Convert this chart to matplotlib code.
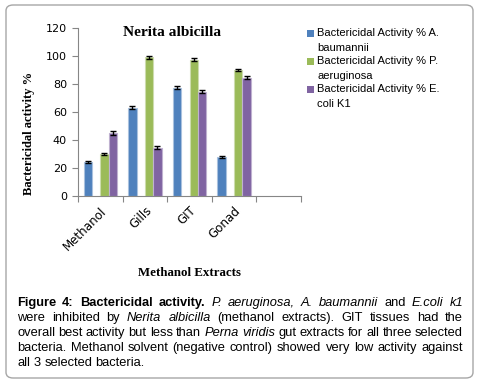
import numpy as np
import matplotlib
matplotlib.use('Agg')
import matplotlib.pyplot as plt
from matplotlib.patches import FancyBboxPatch, Rectangle

# data
categories = ['Methanol', 'Gills', 'GIT', 'Gonad', '']
a_baumannii = [24, 63, 77.5, 28]
p_aeruginosa = [30, 99, 97.5, 90]
e_coli = [45, 34.5, 74.5, 84.5]
err_a = [0.7, 1.0, 1.0, 0.8]
err_p = [1.0, 1.0, 1.0, 1.0]
err_e = [1.2, 1.0, 1.0, 1.0]
legend_labels = ['Bactericidal Activity % A.\nbaumannii',
                 'Bactericidal Activity % P.\naeruginosa',
                 'Bactericidal Activity % E.\ncoli K1']
colors = ['#4F81BD', '#9BBB59', '#8064A2']
edges = ['#a9c1de', '#cddcae', '#bfb1d0']

W, H = 479, 383
fig = plt.figure(figsize=(W / 100, H / 100), dpi=100)

def fx(px):
    return px / W

def fy(py):
    return 1 - py / H

# outer rounded frame
frame = FancyBboxPatch((fx(6), fy(378)), fx(473) - fx(6), fy(5) - fy(378),
                       boxstyle='round,pad=0,rounding_size=0.015',
                       transform=fig.transFigure, fc='none', ec='#a6a6a6', lw=1.0)
fig.patches.append(frame)

ax = fig.add_axes([fx(78), fy(196), fx(301) - fx(78), fy(28) - fy(196)])
ax.patch.set_alpha(0)
x = np.arange(len(a_baumannii))
w = 0.1875
slots = [-1.5 * w, 0.5 * w, 1.5 * w]  # second slot of four is empty
ekw = dict(elinewidth=1.0, capthick=1.0, ecolor='black')
for vals, errs, off, c, e in zip([a_baumannii, p_aeruginosa, e_coli], [err_a, err_p, err_e],
                                 slots, colors, edges):
    ax.bar(x + off, vals, w, color=c, edgecolor=e, linewidth=0.8,
           yerr=errs, capsize=2.4, error_kw=ekw, zorder=2)

ax.set_xlim(-0.5, len(categories) - 0.5)
ax.set_ylim(0, 120)
ax.set_yticks(np.arange(0, 121, 20))
ax.set_xticks(np.arange(len(categories)))
ax.set_xticklabels(categories, rotation=45, ha='right', rotation_mode='anchor',
                   fontsize=8.6, family='DejaVu Sans')
ax.set_xticks(np.arange(-0.5, len(categories)), minor=True)
ax.tick_params(axis='x', which='major', length=0, pad=6)
ax.tick_params(axis='x', which='minor', length=4, color='#868686', width=0.8)
ax.tick_params(axis='y', length=4, color='#868686', width=0.8, labelsize=8, pad=4)
for s in ['top', 'right']:
    ax.spines[s].set_visible(False)
for s in ['left', 'bottom']:
    ax.spines[s].set_color('#868686')
    ax.spines[s].set_linewidth(0.8)

serif = 'Liberation Serif'
fig.text(fx(172.5), fy(32), 'Nerita albicilla', ha='center', va='center',
         family=serif, weight='bold', fontsize=11.1)
fig.text(fx(29), fy(133), 'Bactericidal activity %', ha='center', va='center',
         rotation=90, family=serif, weight='bold', fontsize=9)
fig.text(fx(190), fy(273), 'Methanol Extracts', ha='center', va='center',
         family=serif, weight='bold', fontsize=9.3)

# legend
for i, (lab, c) in enumerate(zip(legend_labels, colors)):
    ytop = 28 + i * 28
    fig.patches.append(Rectangle((fx(307), fy(ytop + 9)), fx(6.5), fy(0) - fy(6.5),
                                 transform=fig.transFigure, fc=c, ec='none'))
    fig.text(fx(317), fy(ytop), lab, ha='left', va='top', family='Liberation Sans',
             fontsize=8, linespacing=1.65)

# caption, justified
lines = [
    [('Figure 4: Bactericidal activity.', 'b'), ('P. aeruginosa, A. baumannii', 'i'),
     ('and', 'n'), ('E.coli k1', 'i')],
    [('were inhibited by', 'n'), ('Nerita albicilla', 'i'),
     ('(methanol extracts). GIT tissues had the', 'n')],
    [('overall best activity but less than', 'n'), ('Perna viridis', 'i'),
     ('gut extracts for all three selected', 'n')],
    [('bacteria. Methanol solvent (negative control) showed very low activity against', 'n')],
    [('all 3 selected bacteria.', 'n')],
]
cap_left, cap_right = 17, 463
cap_size = 9.3
renderer = fig.canvas.get_renderer()

def style_kw(st):
    return dict(family='Liberation Sans', fontsize=cap_size,
                weight='bold' if st == 'b' else 'normal',
                style='italic' if st == 'i' else 'normal')

for li, segs in enumerate(lines):
    words = []
    for txt, st in segs:
        for wd in txt.split():
            words.append((wd, st))
    base = 306 + li * 15
    objs = [fig.text(0, fy(base), wd, va='baseline', ha='left', **style_kw(st))
            for wd, st in words]
    widths = [o.get_window_extent(renderer).width for o in objs]
    if li < len(lines) - 1:
        gap = (cap_right - cap_left - sum(widths)) / (len(words) - 1)
    else:
        gap = cap_size * 100 / 72 * 0.278
    pos = cap_left
    for o, wdt in zip(objs, widths):
        o.set_x(fx(pos))
        pos += wdt + gap

fig.savefig('out.png', dpi=100)
